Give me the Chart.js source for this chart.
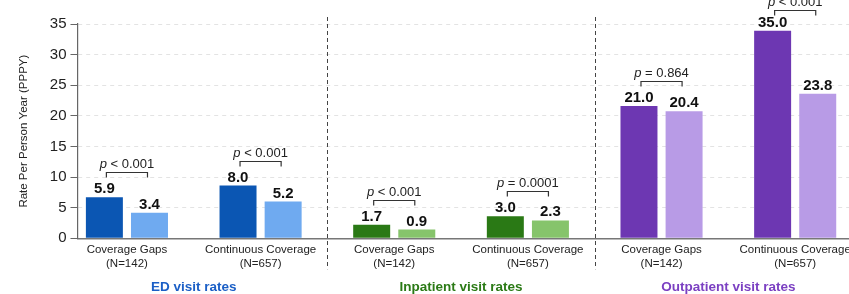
<!DOCTYPE html>
<html>
<head>
<meta charset="utf-8">
<script src="https://cdn.jsdelivr.net/npm/chart.js@4.4.1/dist/chart.umd.min.js"></script>
<style>
html,body{margin:0;padding:0;background:#fff;overflow:hidden}
#wrap{width:860px;height:294px;position:relative}
</style>
</head>
<body>
<div id="wrap"><canvas id="c"></canvas></div>
<script>
// ---- data ----
const categories = [
  ["Coverage Gaps", "(N=142)"], ["Continuous Coverage", "(N=657)"],
  ["Coverage Gaps", "(N=142)"], ["Continuous Coverage", "(N=657)"],
  ["Coverage Gaps", "(N=142)"], ["Continuous Coverage", "(N=657)"]
];
const groupNames = ["ED visit rates", "Inpatient visit rates", "Outpatient visit rates"];
// bar heights as drawn in the picture
const darkValues  = [6.7, 8.6, 2.2, 3.6, 21.6, 33.9];
const lightValues = [4.15, 6.0, 1.42, 2.9, 20.75, 23.6];
// printed value labels
const darkLabels  = ["5.9", "8.0", "1.7", "3.0", "21.0", "35.0"];
const lightLabels = ["3.4", "5.2", "0.9", "2.3", "20.4", "23.8"];
// significance labels
const pOps    = ["<", "<", "<", "=", "=", "<"];
const pValues = ["0.001", "0.001", "0.001", "0.0001", "0.864", "0.001"];
const yTicksMax = 35, yTickStep = 5;

// ---- styles ----
const groupDark  = ["#0b56b3", "#2a7915", "#6d37b2"];
const groupLight = ["#6faaf0", "#86c46b", "#b89be6"];
const groupText  = ["#1b5fc6", "#2b7a16", "#7b40c2"];
const darkColors  = categories.map((c, i) => groupDark[Math.floor(i / 2)]);
const lightColors = categories.map((c, i) => groupLight[Math.floor(i / 2)]);

const FONT = '"Liberation Sans", Arial, Helvetica, sans-serif';
Chart.defaults.font.family = FONT;
Chart.defaults.color = '#222';

const annot = {
  id: 'annot',
  afterDatasetsDraw(chart) {
    const {ctx, chartArea} = chart;
    const m0 = chart.getDatasetMeta(0), m1 = chart.getDatasetMeta(1);
    ctx.save();
    // value labels
    ctx.fillStyle = '#111';
    ctx.font = 'bold 15px ' + FONT;
    ctx.textAlign = 'center';
    ctx.textBaseline = 'alphabetic';
    m0.data.forEach((b, i) => ctx.fillText(darkLabels[i], b.x, b.y - 4));
    m1.data.forEach((b, i) => ctx.fillText(lightLabels[i], b.x, b.y - 4));
    // brackets + p-values
    ctx.strokeStyle = '#333';
    ctx.lineWidth = 1.2;
    m0.data.forEach((b, i) => {
      const b2 = m1.data[i];
      const top = Math.min(b.y, b2.y);
      const yb = Math.round(Math.max(top - 25, chartArea.top - 14)) + 0.5;
      const x1 = b.x + 2, x2 = b2.x - 2;
      ctx.beginPath();
      ctx.moveTo(x1, yb + 5); ctx.lineTo(x1, yb); ctx.lineTo(x2, yb); ctx.lineTo(x2, yb + 5);
      ctx.stroke();
      const cx = (b.x + b2.x) / 2;
      const fi = 'italic 13px ' + FONT, fn = '13px ' + FONT;
      const rest = ' ' + pOps[i] + ' ' + pValues[i];
      ctx.font = fi; const w1 = ctx.measureText('p').width;
      ctx.font = fn; const w2 = ctx.measureText(rest).width;
      const sx = cx - (w1 + w2) / 2;
      ctx.fillStyle = '#222';
      ctx.textAlign = 'left';
      ctx.font = fi; ctx.fillText('p', sx, yb - 5);
      ctx.font = fn; ctx.fillText(rest, sx + w1, yb - 5);
      ctx.textAlign = 'center';
    });
    // separators and group names
    const x = chart.scales.x;
    ctx.strokeStyle = '#444';
    ctx.lineWidth = 1;
    ctx.setLineDash([4, 3]);
    for (let g = 1; g < groupNames.length; g++) {
      const sxp = Math.round((x.getPixelForValue(2 * g - 1) + x.getPixelForValue(2 * g)) / 2) + 0.5;
      ctx.beginPath();
      ctx.moveTo(sxp, chartArea.top - 7);
      ctx.lineTo(sxp, chartArea.bottom + 31);
      ctx.stroke();
    }
    ctx.setLineDash([]);
    ctx.font = 'bold 13.5px ' + FONT;
    ctx.textAlign = 'center';
    ctx.textBaseline = 'middle';
    groupNames.forEach((name, g) => {
      const cx = (x.getPixelForValue(2 * g) + x.getPixelForValue(2 * g + 1)) / 2;
      ctx.fillStyle = groupText[g];
      ctx.fillText(name, cx, chartArea.bottom + 49);
    });
    ctx.restore();
  }
};

new Chart(document.getElementById('c'), {
  type: 'bar',
  data: {
    labels: categories,
    datasets: [
      {label: 'Dark', data: darkValues, backgroundColor: darkColors, categoryPercentage: 0.675, barPercentage: 0.82},
      {label: 'Light', data: lightValues, backgroundColor: lightColors, categoryPercentage: 0.675, barPercentage: 0.82}
    ]
  },
  options: {
    responsive: true,
    maintainAspectRatio: false,
    animation: false,
    layout: {padding: {top: 24, left: 8, right: 0, bottom: 19}},
    plugins: {legend: {display: false}, tooltip: {enabled: false}},
    scales: {
      x: {
        offset: true,
        afterBuildTicks(scale) {
          if ('_startValue' in scale) { scale._startValue = -0.37; scale._valueRange = 5.855; }
        },
        grid: {display: false, drawTicks: false},
        border: {display: true, color: '#777', width: 1.5},
        ticks: {font: {size: 11.5, lineHeight: 1.25}, color: '#222', padding: 4, maxRotation: 0, autoSkip: false}
      },
      y: {
        min: 0, max: yTicksMax,
        ticks: {stepSize: yTickStep, font: {size: 15}, color: '#222', padding: 4},
        grid: {color: '#e3e3e3', tickColor: '#666', tickLength: 7, tickBorderDash: []},
        border: {display: true, color: '#666', width: 1.2, dash: [4, 4]},
        title: {display: true, text: 'Rate Per Person Year (PPPY)', font: {size: 11.5}, color: '#222', padding: {top: 9, bottom: 15}}
      }
    }
  },
  plugins: [annot]
});
</script>
</body>
</html>
